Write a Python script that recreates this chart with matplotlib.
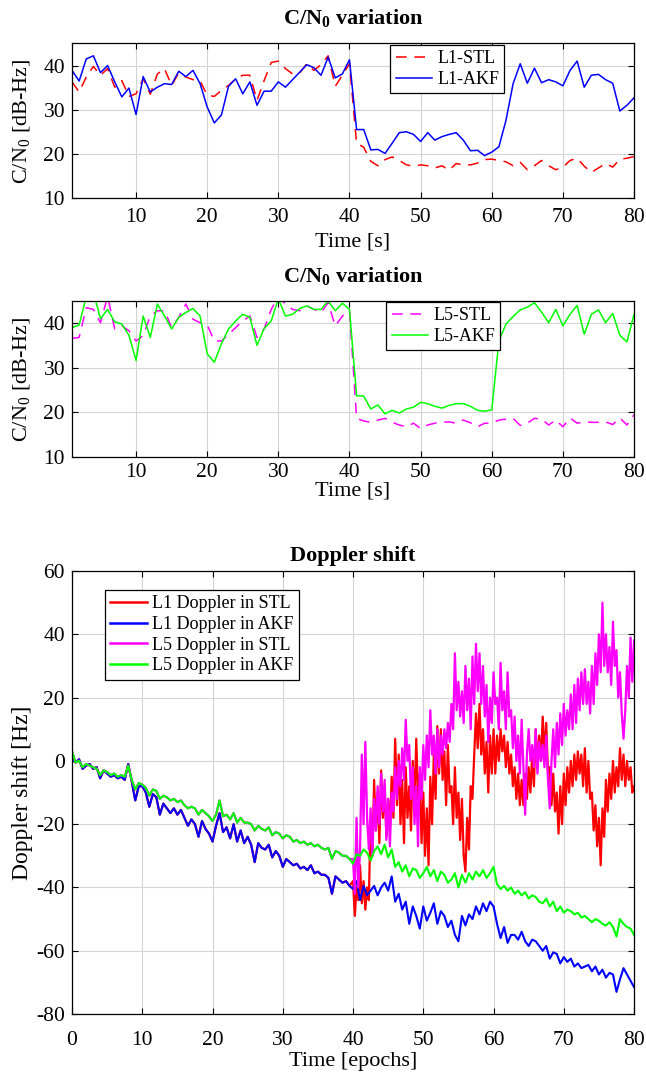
import matplotlib.pyplot as plt
import numpy as np

plt.rcParams['font.family'] = ['Liberation Serif', 'DejaVu Serif']
plt.rcParams['mathtext.fontset'] = 'custom'
plt.rcParams['mathtext.rm'] = 'Liberation Serif'
plt.rcParams['mathtext.it'] = 'Liberation Serif:italic'
plt.rcParams['mathtext.bf'] = 'Liberation Serif:bold'
plt.rcParams['axes.unicode_minus'] = False

# ---------------------------------------------------------------------------
# C/N0 data, one value per second (t = 1..80)
# ---------------------------------------------------------------------------
t_cn = np.arange(1, 81)

l1_stl = [36.3, 34.0, 37.4, 39.8, 37.8, 39.3, 35.1, 36.6, 33.0, 33.6,
          37.0, 33.5, 38.1, 39.3, 35.5, 38.3, 37.4, 36.8, 36.5, 33.3,
          33.0, 34.4, 35.5, 37.0, 37.8, 37.8, 32.1, 36.6, 40.7, 41.0,
          39.3, 38.1, 38.3, 40.4, 38.9, 40.2, 42.2, 35.3, 37.8, 40.4,
          22.4, 21.5, 18.3, 17.3, 18.7, 19.3, 18.5, 17.5, 17.2, 17.5,
          17.3, 16.8, 17.3, 16.3, 17.8, 17.5, 17.5, 17.9, 18.7, 18.8,
          18.5, 18.2, 17.3, 18.1, 16.4, 17.3, 18.5, 17.3, 16.4, 17.0,
          18.5, 19.0, 17.2, 15.8, 16.8, 17.8, 17.0, 18.8, 19.0, 19.4]

l1_akf = [38.9, 36.5, 41.5, 42.2, 38.4, 40.0, 36.3, 32.9, 34.9, 28.9,
          37.5, 34.0, 35.1, 35.9, 35.7, 38.7, 37.5, 38.9, 35.9, 30.6,
          27.0, 28.8, 35.3, 37.0, 33.6, 36.3, 31.0, 34.2, 34.2, 36.3,
          35.1, 36.8, 38.5, 40.2, 39.5, 37.8, 41.9, 37.2, 38.1, 41.3,
          25.5, 25.5, 20.9, 21.0, 20.1, 22.4, 24.8, 25.0, 24.4, 22.8,
          24.8, 23.1, 23.9, 24.4, 24.8, 23.1, 20.7, 20.8, 19.6, 20.4,
          21.6, 27.6, 35.9, 40.4, 36.0, 39.4, 36.1, 36.8, 36.3, 35.4,
          38.9, 41.0, 35.1, 37.8, 38.0, 36.8, 36.0, 29.7, 31.0, 32.7]

l5_stl = [36.6, 36.8, 43.5, 43.1, 40.1, 46.0, 38.7, 39.4, 38.3, 36.0,
          37.2, 41.6, 42.8, 42.8, 39.0, 41.3, 44.3, 40.9, 40.1, 39.6,
          36.0, 36.0, 37.5, 39.0, 40.5, 41.6, 36.8, 38.7, 43.1, 46.0,
          44.3, 43.1, 42.8, 43.9, 43.1, 42.4, 44.6, 39.4, 41.6, 42.8,
          18.6, 18.0, 17.7, 18.2, 18.6, 17.7, 17.1, 16.7, 17.5, 16.3,
          17.1, 17.5, 17.7, 17.8, 17.5, 18.2, 17.6, 16.7, 17.5, 17.5,
          18.2, 18.4, 18.6, 17.0, 17.5, 18.6, 18.4, 17.1, 18.2, 16.7,
          18.7, 17.5, 17.8, 17.7, 17.7, 17.8, 17.2, 18.7, 17.1, 19.4]

l5_akf = [39.0, 39.6, 46.0, 47.0, 41.0, 43.1, 40.3, 39.8, 37.3, 31.6,
          41.6, 36.8, 44.3, 41.6, 38.7, 41.3, 42.4, 43.3, 41.6, 33.1,
          31.2, 35.4, 38.7, 40.5, 42.0, 41.3, 35.0, 38.8, 40.5, 45.5,
          41.6, 42.0, 43.3, 43.9, 43.1, 43.1, 45.0, 42.8, 44.5, 43.1,
          23.7, 23.6, 20.7, 21.6, 19.6, 20.4, 19.8, 20.7, 21.1, 22.2,
          21.9, 21.3, 20.9, 21.5, 21.9, 21.9, 21.3, 20.4, 20.2, 20.5,
          36.0, 39.8, 41.5, 43.0, 43.6, 44.6, 42.5, 40.1, 43.1, 39.4,
          42.0, 44.0, 37.5, 42.0, 43.0, 40.1, 42.2, 37.3, 35.8, 42.0]

# ---------------------------------------------------------------------------
# Doppler data. AKF sampled every 0.5 epoch (0..80),
# STL after the 40th epoch every 0.25 epoch (before 40 it equals AKF).
# ---------------------------------------------------------------------------
t_akf = np.arange(0, 80.01, 0.5)
t_stl_tail = np.arange(40, 80.01, 0.25)

dop_l1_akf = [
    0.5, -0.5, 0.5, -2.5, -1.5, -1.0, -2.5, -2.0, -5.5, -3.0,
    -4.0, -5.0, -4.5, -5.5, -5.0, -6.0, -1.0, -6.5, -12.5, -8.0,
    -8.0, -10.0, -14.5, -10.5, -11.5, -17.0, -13.5, -15.0, -16.5, -15.0,
    -17.0, -15.5, -18.0, -20.5, -18.5, -20.0, -24.0, -19.0, -21.5, -23.0,
    -25.5, -20.5, -16.5, -22.5, -21.0, -24.5, -20.0, -25.5, -22.0, -26.0,
    -24.0, -26.5, -32.0, -26.0, -27.5, -28.0, -26.5, -30.5, -28.5, -30.0,
    -33.5, -31.0, -32.0, -33.0, -32.5, -34.0, -33.5, -34.5, -33.0, -35.5,
    -35.0, -36.0, -36.0, -37.0, -42.0, -36.5, -37.5, -38.5, -38.0, -39.5,
    -40.5, -38.0, -44.0, -39.5, -42.5, -41.0, -39.5, -42.5, -40.0, -38.5,
    -41.0, -36.5, -44.5, -42.0, -47.0, -44.5, -51.5, -46.0, -49.0, -53.0,
    -46.0, -50.5, -48.0, -45.0, -51.5, -47.5, -49.0, -52.5, -50.5, -55.0,
    -57.0, -49.0, -52.0, -48.5, -50.0, -46.0, -48.5, -45.0, -47.5, -44.5,
    -46.0, -51.5, -56.0, -52.5, -57.5, -55.0, -55.0, -56.5, -54.0, -57.0,
    -58.5, -56.5, -57.0, -58.5, -60.0, -58.5, -62.5, -60.5, -61.0, -64.0,
    -62.0, -63.5, -62.5, -65.0, -64.0, -65.5, -65.0, -64.5, -66.5, -65.0,
    -67.5, -66.0, -68.5, -67.0, -67.5, -73.0, -69.0, -65.5, -67.5, -69.5,
    -71.5]

dop_l5_akf = [
    3.0, -0.5, 0.0, -2.0, -1.0, -1.5, -2.0, -2.5, -4.5, -3.0,
    -3.5, -4.5, -4.0, -5.0, -4.5, -5.0, -1.5, -6.0, -9.0, -7.0,
    -7.5, -8.5, -11.0, -9.0, -9.5, -12.0, -11.0, -11.5, -12.5, -12.0,
    -13.0, -12.5, -14.0, -15.0, -14.5, -15.0, -17.0, -15.5, -16.5, -17.5,
    -19.0, -17.0, -12.5, -17.5, -17.0, -18.5, -16.5, -19.5, -18.0, -19.5,
    -19.5, -20.0, -22.0, -20.5, -21.5, -22.0, -21.0, -23.5, -22.5, -23.0,
    -24.5, -23.5, -24.0, -25.5, -25.0, -26.0, -25.5, -26.5, -26.0, -27.0,
    -26.5, -27.5, -28.0, -27.5, -31.0, -28.5, -29.0, -30.0, -30.0, -31.0,
    -32.5, -29.5, -30.0, -28.0, -29.0, -31.5, -28.5, -27.0, -29.5, -26.5,
    -30.5, -28.0, -33.5, -32.0, -35.0, -33.0, -36.5, -34.0, -34.5, -37.0,
    -35.5, -33.5, -36.5, -34.5, -38.0, -35.0, -36.0, -38.5, -37.5, -35.5,
    -40.0, -36.0, -38.5, -35.5, -37.5, -35.0, -36.5, -34.5, -37.0, -35.5,
    -33.5, -39.0, -40.5, -39.5, -41.0, -40.0, -42.0, -41.0, -42.5, -41.5,
    -43.5, -42.5, -43.0, -44.5, -45.0, -43.5, -46.0, -44.5, -47.5, -46.0,
    -48.0, -47.0, -47.5, -48.5, -48.0, -49.5, -49.0, -50.0, -51.0, -50.0,
    -50.5, -51.5, -52.0, -51.0, -52.5, -55.5, -50.0, -51.5, -52.5, -53.0,
    -55.0]

dop_l1_stl_tail = [
    -38, -49, -40, -44, -33, -45, -38, -47, -40, -44, -18, -30,
    -6, -22, -10, -26, -3, -18, -8, -24, -12, -22, -5, -18,
    7, -14, 2, -20, -6, -26, -2, -18, -8, -22, 0, -14,
    7, -12, -4, -26, -10, -30, -15, -33, -5, -20, 2, -12,
    11, -4, 10, -6, 3, -14, 5, -10, -8, -20, -2, -18,
    -10, -25, -12, -30, -35, -18, -28, -8, -12, 2, 15, 4,
    18, 2, 10, -4, 6, -10, 8, -4, 10, -4, 8, 0,
    10, 3, 8, -2, 6, -4, 2, -8, -2, -12, -4, -14,
    -6, -14, -4, -12, -2, -10, 2, -8, 10, -2, 8, 0,
    14, 2, 12, -4, -2, -14, -4, -16, -10, -23, -8, -20,
    -4, -14, -2, -10, 0, -8, 2, -6, 3, -4, 2, -8,
    4, -10, 0, -12, -10, -22, -14, -27, -18, -33, -15, -24,
    -6, -16, -4, -12, 0, -10, -2, -8, 4, -6, 2, -8,
    0, -6, -2, -10, -8]

dop_l5_stl_tail = [
    -31, -42, -18, -40, -28, 2, -20, 6, -18, -28, -15, -30,
    -12, -22, -8, -20, -4, -16, -6, -25, -12, -27, -10, -16,
    -2, -12, 0, -8, 4, -6, 13, 0, 5, -12, -2, -20,
    -8, -27, -2, -12, 5, -6, 8, -2, 16, 2, 8, -4,
    10, -2, 8, 2, 10, 4, 12, 6, 18, 10, 34, 16,
    25, 14, 22, 12, 30, 16, 26, 10, 33, 18, 37, 22,
    34, 18, 30, 14, 24, 6, 20, 12, 28, 18, 20, 10,
    31, 16, 22, 10, 28, 14, 16, 4, 14, 0, 8, -4,
    13, -2, -17, 2, 10, 0, 5, -2, 10, -4, 6, 0,
    5, -2, 8, -6, -15, 0, 10, -2, 12, 2, 15, 5,
    18, 8, 16, 10, 21, 10, 24, 12, 26, 16, 28, 18,
    29, 18, 25, 15, 30, 18, 34, 24, 40, 28, 50, 30,
    40, 28, 36, 24, 44, 30, 35, 20, 28, 15, 7, 16,
    30, 20, 39, 25, 38]

# STL equals AKF before epoch 40
pre = t_akf < 40
t_stl = np.concatenate([t_akf[pre], t_stl_tail])
dop_l1_stl = np.concatenate([np.array(dop_l1_akf)[pre], dop_l1_stl_tail])
dop_l5_stl = np.concatenate([np.array(dop_l5_akf)[pre], dop_l5_stl_tail])

RED, BLUE, MAGENTA, GREEN = '#ff0000', '#0000ff', '#ff00ff', '#00ff00'
GRID = '#d4d4d4'


def style_axes(ax, pad):
    ax.grid(True, color=GRID, linewidth=0.8)
    ax.set_axisbelow(True)
    ax.tick_params(direction='in', top=True, right=True, length=4,
                   width=0.8, labelsize=15.5)
    ax.tick_params(axis='x', pad=pad)
    ax.tick_params(axis='y', pad=5)
    for sp in ax.spines.values():
        sp.set_linewidth(0.9)


def legend(ax, bbox, size, hl):
    leg = ax.legend(loc='upper left', bbox_to_anchor=bbox, fontsize=size,
                    fancybox=False, framealpha=1, edgecolor='black',
                    borderaxespad=0, handlelength=hl, borderpad=0.3,
                    labelspacing=0.2, handletextpad=0.3)
    leg.get_frame().set_linewidth(0.9)
    return leg


def cn0_axes(ax, stl, akf, stl_col, akf_col, names, bbox):
    ax.plot(t_cn, stl, color=stl_col, linewidth=1.1, dashes=(7, 5), label=names[0])
    ax.plot(t_cn, akf, color=akf_col, linewidth=1.1, label=names[1])
    ax.set_xlim(1, 80)
    ax.set_ylim(10, 45)
    ax.set_xticks(range(10, 81, 10))
    ax.set_yticks([10, 20, 30, 40])
    ax.set_ylabel(r'C/N$_\mathrm{0}$ [dB-Hz]', fontsize=16, labelpad=8)
    legend(ax, bbox, 13, 2.0)


fig = plt.figure(figsize=(6.46, 10.76), dpi=100)

ax1 = fig.add_axes([0.1115, 0.816, 0.870, 0.1436])
cn0_axes(ax1, l1_stl, l1_akf, RED, BLUE, ('L1-STL', 'L1-AKF'), (0.566, 0.99))
style_axes(ax1, 7)
ax1.set_title(r'C/N$_\mathbf{0}$ variation', fontsize=16, fontweight='bold', pad=14)
ax1.set_xlabel('Time [s]', fontsize=16, labelpad=4)

ax2 = fig.add_axes([0.1115, 0.5757, 0.870, 0.1446])
cn0_axes(ax2, l5_stl, l5_akf, MAGENTA, GREEN, ('L5-STL', 'L5-AKF'), (0.559, 0.994))
style_axes(ax2, 5)
ax2.set_title(r'C/N$_\mathbf{0}$ variation', fontsize=16, fontweight='bold', pad=14)
ax2.set_xlabel('Time [s]', fontsize=16, labelpad=-1)

ax3 = fig.add_axes([0.1115, 0.0576, 0.870, 0.4117])
ax3.plot(t_stl, dop_l1_stl, color=RED, linewidth=1.6, label='L1 Doppler in STL')
ax3.plot(t_akf, dop_l1_akf, color=BLUE, linewidth=1.5, label='L1 Doppler in AKF')
ax3.plot(t_stl, dop_l5_stl, color=MAGENTA, linewidth=1.6, label='L5 Doppler in STL')
ax3.plot(t_akf, dop_l5_akf, color=GREEN, linewidth=1.5, label='L5 Doppler in AKF')
ax3.set_xlim(0, 80)
ax3.set_ylim(-80, 60)
ax3.set_xticks(range(0, 81, 10))
ax3.set_yticks(range(-80, 61, 20))
style_axes(ax3, 12)
ax3.set_title('Doppler shift', fontsize=16, fontweight='bold', pad=7)
ax3.set_xlabel('Time [epochs]', fontsize=16, labelpad=2)
ax3.set_ylabel('Doppler shift [Hz]', fontsize=17, labelpad=2)
leg = legend(ax3, (0.0587, 0.957), 13, 2.0)
for line in leg.get_lines():
    line.set_linewidth(1.8)

fig.savefig('out.png', dpi=100, facecolor='white')
